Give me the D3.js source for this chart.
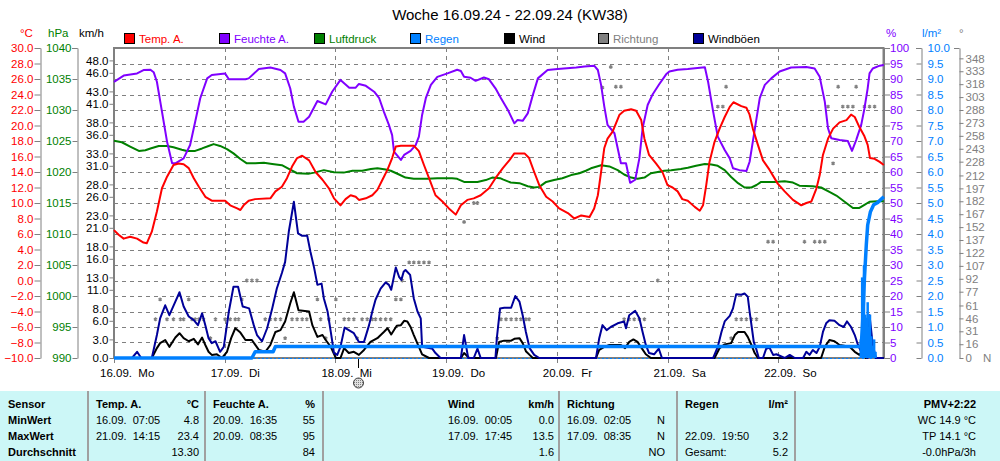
<!DOCTYPE html>
<html><head><meta charset="utf-8">
<script src="https://cdn.jsdelivr.net/npm/d3@7"></script>
<style>
body{margin:0;background:#fff;}
svg{display:block;font-family:"Liberation Sans",Arial,sans-serif;}
text{white-space:pre;}
</style></head><body>
<svg id="c" width="1000" height="461"></svg>
<script>
// ---------- DATA (time in hours since 16.09. 00:00) ----------
const dayLabels = ["16.09.  Mo","17.09.  Di","18.09.  Mi","19.09.  Do","20.09.  Fr","21.09.  Sa","22.09.  So"];

const humT = [0,2.1,5.0,6.4,7.9,8.6,9.3,10.4,11.5,12.6,13.3,15.1,16.5,17.6,18.7,20.2,21.2,24.1,24.9,28.5,29.2,31.4,33.9,36.1,37.1,38.2,39.0,40.0,41.1,42.3,44.1,45.9,47.3,49.1,51.0,52.4,53.1,54.6,56.4,57.5,58.5,59.6,60.3,60.7,62.2,62.9,64.3,65.4,66.1,66.8,67.6,68.7,70.1,72.3,74.4,75.2,75.9,77.3,78.4,80.2,81.3,82.7,83.9,85.4,86.8,87.5,88.6,89.7,90.8,91.9,94.0,96.2,100.2,102.0,104.1,104.9,105.6,106.3,107.0,108.5,109.9,111.0,111.9,113.0,113.9,114.6,115.7,116.8,118.2,119.7,120.4,122.2,124.4,128.1,128.8,129.9,130.9,132.4,133.5,134.2,135.6,137.1,137.8,138.5,139.3,140.0,141.1,142.5,144.3,146.8,150.1,151.9,153.0,154.1,154.8,155.5,157.3,159.1,160.0,160.9,162.0,162.7,163.4,163.8,164.5,166.0,166.9];
const humV = [89.1,91.1,91.8,92.9,93.0,92.2,89.1,79.5,69.8,62.8,62.8,64.4,68.7,76.2,83.8,90.2,91.3,91.8,89.9,89.9,90.2,93.2,93.7,92.9,91.8,87.0,81.1,76.2,76.2,77.8,82.9,81.8,85.9,89.7,87.2,87.2,88.4,87.8,85.9,83.8,79.5,75.2,71.9,66.6,63.9,65.5,66.8,68.7,71.4,78.4,83.8,88.1,90.7,91.8,93.0,92.6,90.7,90.4,89.4,90.5,89.9,87.0,83.8,80.0,75.7,76.8,76.5,78.9,84.8,90.2,92.9,93.2,93.7,94.0,94.3,92.9,88.1,81.1,75.2,72.5,62.8,62.8,56.5,57.5,64.4,74.1,81.6,85.1,88.3,91.5,92.4,93.0,93.2,93.8,89.1,79.5,71.4,67.1,64.4,61.2,60.6,60.3,63.3,69.8,77.3,83.8,88.1,90.2,92.4,93.7,93.9,93.4,90.7,82.7,74.1,70.9,70.3,70.0,66.8,70.3,75.2,80.5,87.0,91.8,93.4,94.3,94.5];

const tempT = [0,1.0,2.1,3.5,5.0,6.4,7.1,8.2,9.3,10.4,11.5,12.9,14.0,15.1,16.2,17.3,18.4,19.8,21.2,24.1,25.2,26.7,27.4,28.1,29.2,30.6,33.9,35.0,36.4,37.5,38.6,39.7,40.8,42.3,43.7,45.2,46.6,47.7,49.1,50.2,51.3,52.4,53.1,54.6,56.0,57.1,58.2,59.3,60.3,61.1,62.2,65.0,66.1,67.2,68.3,69.7,71.2,72.6,74.1,75.2,76.6,78.0,79.5,81.3,82.7,84.3,85.7,86.8,89.0,90.0,91.1,92.2,93.7,95.1,96.5,98.4,99.8,101.3,103.1,104.1,104.9,105.6,106.3,107.0,108.1,109.6,110.6,112.1,113.2,114.3,115.0,116.0,117.5,118.9,120.0,121.1,122.2,123.2,124.4,125.9,127.0,127.7,128.4,129.1,130.2,131.3,132.4,133.5,134.3,136.0,137.1,137.8,138.5,139.6,140.7,142.1,143.9,145.4,147.2,149.0,150.1,151.2,152.3,153.0,153.7,154.8,155.9,157.3,158.8,159.8,160.6,161.6,162.7,163.4,163.9,164.9,166.0,166.9];
const tempV = [6.5,5.9,5.4,5.65,5.4,4.9,4.8,6.3,8.9,11.9,13.4,14.9,15.1,15.0,14.5,13.2,12.1,10.8,10.3,10.3,9.7,9.3,9.1,9.7,10.3,10.5,10.6,11.5,12.1,13.2,14.7,15.8,16.1,15.5,14.0,13.0,11.9,10.6,9.7,10.5,11.0,10.8,10.4,10.6,11.0,11.7,13.0,14.3,15.8,17.3,17.4,17.4,16.7,14.9,13.2,11.0,10.2,9.3,8.5,9.7,10.4,10.6,11.0,11.9,13.2,14.5,15.5,16.4,16.4,15.8,14.0,12.3,10.8,10.2,9.3,8.7,8.0,8.4,8.2,9.3,11.0,14.0,17.1,18.3,19.2,21.4,21.9,22.1,21.9,20.7,18.3,16.2,15.1,14.0,12.3,12.0,11.5,10.5,10.3,9.5,9.0,9.7,12.3,15.3,17.9,19.6,21.1,22.4,23.0,22.5,22.3,21.4,19.6,17.5,15.5,14.3,12.5,11.5,10.4,9.7,10.0,10.2,11.9,13.6,16.2,18.3,19.6,20.4,20.7,21.4,21.1,19.8,18.6,17.5,15.8,15.7,15.3,14.9];

const presT = [0,1.7,3.5,5.4,6.8,7.9,9.7,11.5,12.9,14.7,15.8,17.6,19.1,20.5,21.6,23.0,24.5,25.9,27.4,28.8,30.6,32.5,34.3,36.4,37.9,39.7,42.1,43.4,45.5,47.7,49.8,51.7,53.8,55.7,57.1,58.9,60.0,61.8,63.2,65.0,67.9,70.1,73.3,74.4,75.9,78.8,80.6,82.0,83.7,84.3,86.0,87.9,89.7,91.1,92.2,93.7,95.4,97.2,99.1,100.9,102.3,103.4,105.6,107.4,109.2,110.6,112.1,113.5,115.0,116.4,117.9,119.3,120.8,122.9,124.4,126.2,128.1,129.5,130.9,132.4,133.8,135.3,136.7,138.2,139.3,140.3,143.2,145.4,147.2,148.6,151.5,153.3,155.1,156.6,158.4,160.2,161.6,162.7,163.8,165.6,166.9];
const presV = [1025.05,1024.8,1024.1,1023.4,1023.5,1023.8,1024.2,1024.2,1024.0,1023.6,1023.4,1023.4,1023.8,1024.2,1024.5,1024.2,1023.7,1023.0,1022.1,1021.4,1021.4,1021.5,1021.3,1021.1,1020.5,1019.8,1019.7,1019.9,1020.3,1019.95,1019.9,1020.2,1020.2,1020.5,1020.6,1020.4,1020.2,1019.6,1019.1,1018.9,1018.9,1019.0,1019.0,1018.9,1018.4,1018.4,1018.7,1019.1,1019.0,1018.8,1018.3,1018.2,1017.7,1017.5,1017.6,1018.4,1018.7,1019.0,1019.5,1019.8,1020.2,1020.6,1021.1,1020.9,1020.3,1019.6,1019.1,1018.9,1019.1,1019.8,1020.0,1020.2,1020.3,1020.5,1020.7,1021.0,1021.3,1021.2,1021.0,1020.3,1019.2,1018.2,1017.5,1017.5,1017.9,1018.4,1018.4,1018.5,1018.3,1017.8,1017.7,1017.5,1016.8,1016.2,1015.2,1014.2,1014.2,1014.7,1015.2,1015.3,1015.3];

const gustT = [0,3.9,5.0,5.9,8.2,9.3,10.0,11.1,12.0,13.3,14.2,15.1,16.2,17.3,18.2,19.1,19.8,20.5,21.2,22.0,23.0,23.8,24.9,25.9,26.9,27.9,29.3,30.3,31.0,32.1,33.2,34.3,35.3,36.4,37.1,37.9,39.0,39.9,40.8,41.9,42.6,43.4,44.1,45.0,45.5,46.3,47.0,47.7,48.4,49.1,50.0,50.9,52.0,53.1,54.2,55.3,56.0,56.7,57.8,58.9,59.6,60.1,61.1,61.8,62.3,62.8,63.2,64.2,65.0,65.8,66.5,66.8,68.3,69.0,69.7,70.8,75.2,75.9,76.8,78.0,78.8,79.5,82.7,83.0,83.7,84.6,86.1,87.0,87.9,88.6,89.3,90.1,91.1,92.2,104.5,105.2,105.9,106.8,107.7,109.2,110.6,111.0,111.7,113.0,113.9,114.6,115.3,116.0,117.1,118.1,118.8,129.9,130.9,131.7,132.4,133.5,134.2,134.9,136.0,136.7,137.4,137.8,138.3,138.7,139.3,139.8,140.7,141.4,142.1,142.9,143.6,145.4,146.5,147.6,149.4,150.1,150.8,151.5,152.3,153.0,153.7,154.4,155.1,156.2,157.3,158.2,158.9,159.8,160.6,161.3,162.0,162.7,163.4,163.8,164.5,165.2,166.9];
const gustV = [0,0,1.0,0,0,3.7,6.4,8.5,6.9,9.1,10.6,8.3,6.7,6.1,5.3,7.2,5.3,3.2,2.4,2.7,1.0,1.8,7.5,11.5,11.5,8.3,8.0,5.3,3.7,2.7,4.8,8.0,11.2,13.7,15.5,20.4,25.2,20.1,19.7,19.7,17.1,14.5,11.8,12.0,9.6,7.5,4.2,0.8,0.5,1.8,4.9,4.5,4.0,2.6,2.6,5.3,7.5,9.4,11.2,12.2,11.8,11.0,14.6,13.1,12.6,13.9,14.2,13.4,9.6,7.5,6.4,1.8,1.6,1.5,0.8,0,0,3.7,0,0,1.5,0,0,3.2,8.0,8.1,8.1,10.0,9.1,6.9,4.2,1.6,0.5,0,0,3.2,5.3,4.5,5.0,5.6,5.9,4.8,6.9,7.6,6.4,4.2,2.1,0.8,0.6,1.5,0,0,1.8,4.2,5.9,6.8,8.0,10.3,10.2,10.4,9.9,7.5,4.8,2.6,1.3,0,0,1.5,1.7,0.5,0.6,0,0.5,0,0,1.0,0.5,1.3,0.8,1.8,4.2,5.6,6.1,6.0,5.3,5.0,5.9,5.0,3.7,2.1,1.0,3.7,0,6.9,2.1,0,0];

const windT = [0,8.2,9.3,10.0,11.1,12.0,13.3,14.2,15.1,16.2,17.3,18.2,19.1,19.8,20.5,21.2,22.3,23.4,24.5,25.4,26.3,27.4,28.5,29.9,31.4,32.8,33.9,35.0,36.1,37.1,38.2,39.0,40.0,42.3,43.0,44.1,45.2,45.9,47.0,48.1,49.1,49.9,50.9,52.0,53.1,54.2,55.6,57.1,58.5,59.3,60.1,61.3,62.2,62.9,63.6,64.3,65.0,66.1,66.8,68.3,75.2,75.9,77.0,82.8,83.5,84.6,86.1,86.8,87.9,88.6,89.3,90.1,90.8,104.5,105.2,106.3,107.4,109.9,110.8,111.7,112.6,113.5,114.4,115.3,116.4,130.2,131.3,132.4,133.8,134.6,135.3,136.7,137.4,138.2,138.9,139.6,153.3,154.1,155.1,156.2,157.3,159.5,160.6,161.6,162.3,163.0,163.8,164.5,165.2,166.9];
const windV = [0,0,1.6,2.4,2.9,1.8,3.3,4.0,3.2,2.7,3.1,2.2,3.3,2.1,1.0,0.5,0.6,0,1.0,3.2,4.8,4.1,2.9,2.9,1.3,1.0,2.1,4.2,4.5,5.9,8.8,10.6,7.7,7.5,5.3,3.4,3.7,2.9,1.8,0,0,1.6,0.8,1.0,0.5,1.3,2.6,3.2,4.2,4.8,3.8,5.2,5.3,6.0,5.9,5.0,3.7,1.8,0.6,0,0,0.8,0,0,2.6,2.8,2.8,3.1,3.2,2.4,1.1,0.5,0,0,1.3,1.8,2.1,2.1,1.6,2.6,3.0,2.6,1.6,0.6,0,0,1.6,2.2,2.4,3.7,4.2,4.2,3.4,2.1,0.8,0,0,1.8,2.9,2.7,2.1,1.8,1.0,0.5,1.0,0,2.6,0.5,0,0];

const rainT = [0,29.9,30.6,34.5,35.0,162.0,162.3,162.7,163.1,163.4,164.0,164.7,165.6,166.9];
const rainV = [0,0,0.2,0.2,0.37,0.37,1.17,2.57,3.65,4.29,4.72,4.94,5.02,5.2];
const rainRateT = [161.9,162.2,162.4,162.6,162.9,163.1,163.4,163.6,163.9,164.2,164.5,164.8,165.1];
const rainRateV = [0.6,2.6,1.2,3.0,1.4,1.3,1.8,1.0,1.4,0.7,0.4,0.6,0.2];

const dirT = [9.0,10.0,11.5,12.9,14.4,15.1,16.2,16.9,17.6,18.4,19.4,20.9,22.0,24.1,25.2,26.3,27.0,27.7,28.8,29.9,31.0,32.8,33.9,35.0,36.1,37.1,38.6,39.7,40.8,41.8,44.1,44.8,45.9,46.6,48.1,49.9,50.9,52.0,52.7,53.8,54.9,56.0,56.7,57.8,58.9,60.0,61.1,62.2,62.5,64.0,65.0,66.1,67.2,68.3,75.9,78.0,78.8,83.1,83.9,85.0,86.1,87.2,88.2,89.3,90.0,105.9,107.7,108.8,109.9,110.6,111.7,112.8,113.9,115.0,117.9,130.9,132.0,132.7,133.8,134.9,136.0,137.1,138.2,139.3,141.8,142.9,149.7,151.9,153.0,154.1,154.8,155.9,157.0,158.0,159.1,160.2,160.9,162.7,163.8,164.9];
const dirV = [45,68,45,45,45,45,68,45,45,45,45,23,45,45,45,45,45,68,90,90,90,45,45,45,45,23,45,45,45,45,68,45,23,45,68,45,45,45,23,45,45,45,45,45,45,45,68,68,90,111,111,111,111,111,158,180,180,23,45,45,45,45,45,45,45,314,338,315,315,45,45,45,45,45,90,292,292,315,23,45,45,45,45,45,135,135,135,135,135,135,292,226,315,292,292,292,315,292,292,292];

const tickTemp = d3.range(-10, 31, 2);
const tickPres = d3.range(990, 1041, 5);
const tickWind = [0,3,6,8,11,13,16,18,21,23,26,28,31,33,36,38,41,43,46,48];
const tickHum = d3.range(0, 101, 5);
const tickRain = d3.range(0, 10.01, 0.5);
const tickDir = [0,16,31,46,61,77,92,107,122,137,152,167,182,197,212,228,243,258,273,288,303,318,333,348];
const markerT = 53.0;

const legendItems = [
  {name:"Temp. A.", color:"#ff0000", text:"#ff0000"},
  {name:"Feuchte A.", color:"#8000ff", text:"#8000ff"},
  {name:"Luftdruck", color:"#008000", text:"#008000"},
  {name:"Regen", color:"#0080ff", text:"#0080ff"},
  {name:"Wind", color:"#000000", text:"#000000"},
  {name:"Richtung", color:"#808080", text:"#808080"},
  {name:"Windböen", color:"#000099", text:"#000000"}
];

// table rows: [x, y, text, anchor, bold]
const tableCols = [88, 205, 323, 559, 677, 795];
const tableText = [
  [8,408,"Sensor","start",1],[8,424,"MinWert","start",1],[8,440,"MaxWert","start",1],[8,456,"Durchschnitt","start",1],
  [96,408,"Temp. A.","start",1],[199,408,"°C","end",1],
  [96,424,"16.09.  07:05","start",0],[199,424,"4.8","end",0],
  [96,440,"21.09.  14:15","start",0],[199,440,"23.4","end",0],
  [199,456,"13.30","end",0],
  [213,408,"Feuchte A.","start",1],[315,408,"%","end",1],
  [213,424,"20.09.  16:35","start",0],[315,424,"55","end",0],
  [213,440,"20.09.  08:35","start",0],[315,440,"95","end",0],
  [315,456,"84","end",0],
  [448,408,"Wind","start",1],[554,408,"km/h","end",1],
  [448,424,"16.09.  00:05","start",0],[554,424,"0.0","end",0],
  [448,440,"17.09.  17:45","start",0],[554,440,"13.5","end",0],
  [554,456,"1.6","end",0],
  [567,408,"Richtung","start",1],
  [567,424,"16.09.  02:05","start",0],[665,424,"N","end",0],
  [567,440,"17.09.  08:35","start",0],[665,440,"N","end",0],
  [665,456,"NO","end",0],
  [685,408,"Regen","start",1],[788,408,"l/m²","end",1],
  [685,440,"22.09.  19:50","start",0],[788,440,"3.2","end",0],
  [685,456,"Gesamt:","start",0],[788,456,"5.2","end",0],
  [976,408,"PMV+2:22","end",1],[976,424,"WC 14.9 °C","end",0],
  [976,440,"TP 14.1 °C","end",0],[976,456,"-0.0hPa/3h","end",0]
];

// ---------- SCALES ----------
const L = 114, R = 883.5, T = 48, B = 358;
const x = d3.scaleLinear().domain([0,168]).range([114, 888.9]);
const yT = d3.scaleLinear().domain([-10,30]).range([B,T]);
const yP = d3.scaleLinear().domain([990,1040]).range([B,T]);
const yW = d3.scaleLinear().domain([0,50]).range([B,T]);
const yH = d3.scaleLinear().domain([0,100]).range([B,T]);
const yR = d3.scaleLinear().domain([0,10]).range([B,T]);
const yD = d3.scaleLinear().domain([0,360]).range([B,T]);

const svg = d3.select("#c");
const FS = 11.5;

// title
svg.append("text").attr("x",510).attr("y",20).attr("text-anchor","middle")
  .attr("font-size",15).attr("fill","#000").text("Woche 16.09.24 - 22.09.24 (KW38)");

// unit labels
const units = [[20,"°C","#ff0000"],[48,"hPa","#008000"],[79,"km/h","#000"],[886,"%","#8000ff"],[922,"l/m²","#0080ff"],[959,"°","#808080"]];
units.forEach(u=>svg.append("text").attr("x",u[0]).attr("y",37).attr("font-size",FS).attr("fill",u[2]).text(u[1]));

// legend
const legX = [124,219,314,410,504,598,693];
legendItems.forEach((d,i)=>{
  svg.append("rect").attr("x",legX[i]+0.5).attr("y",33.5).attr("width",10).attr("height",10)
    .attr("fill",d.color).attr("stroke","#000");
  svg.append("text").attr("x",legX[i]+15).attr("y",43).attr("font-size",FS).attr("fill",d.text).text(d.name);
});

// gridlines
const grid = svg.append("g").attr("stroke","#808080").attr("stroke-width",1).attr("stroke-dasharray","4,4");
tickHum.filter(v=>v>0 && v<100).forEach(v=>{
  grid.append("line").attr("x1",L).attr("x2",R).attr("y1",Math.round(yH(v))+0.5).attr("y2",Math.round(yH(v))+0.5);
});
d3.range(1,7).forEach(d=>{
  const xx = Math.round(x(d*24))+0.5;
  grid.append("line").attr("x1",xx).attr("x2",xx).attr("y1",T).attr("y2",B);
});

// axes
function styleAxis(g, color){
  g.selectAll("path.domain").attr("stroke","#808080");
  g.selectAll(".tick line").attr("stroke","#808080");
  g.selectAll(".tick text").attr("fill",color).attr("font-size",FS).attr("font-family",'"Liberation Sans",Arial,sans-serif');
}
styleAxis(svg.append("g").attr("transform","translate(40.5,0)")
  .call(d3.axisLeft(yT).tickValues(tickTemp).tickFormat(d3.format(".1f")).tickSizeInner(6).tickSizeOuter(0).tickPadding(1)), "#ff0000");
styleAxis(svg.append("g").attr("transform","translate(77.5,0)")
  .call(d3.axisLeft(yP).tickValues(tickPres).tickFormat(d3.format("d")).tickSizeInner(5).tickSizeOuter(0).tickPadding(1)), "#008000");
styleAxis(svg.append("g").attr("transform","translate(113.5,0)")
  .call(d3.axisLeft(yW).tickValues(tickWind).tickFormat(d3.format(".1f")).tickSizeInner(4).tickSizeOuter(0).tickPadding(1)), "#000");
styleAxis(svg.append("g").attr("transform","translate(884,0)")
  .call(d3.axisRight(yH).tickValues(tickHum).tickFormat(d3.format("d")).tickSizeInner(6).tickSizeOuter(0).tickPadding(0)), "#8000ff");
styleAxis(svg.append("g").attr("transform","translate(921.5,0)")
  .call(d3.axisRight(yR).tickValues(tickRain).tickFormat(d3.format(".1f")).tickSizeInner(-5).tickSizeOuter(0).tickPadding(6)), "#0080ff");
const gD = svg.append("g").attr("transform","translate(959.5,0)")
  .call(d3.axisRight(yD).tickValues(tickDir).tickFormat(d3.format("d")).tickSizeInner(4).tickSizeOuter(0).tickPadding(2));
styleAxis(gD, "#808080");
svg.append("text").attr("x",983).attr("y",yD(0)+4).attr("font-size",FS).attr("fill","#808080").text("N");
// top end ticks on axis lines
[[35,40.5],[72,77.5],[916,921.5],[954,959.5]].forEach(p=>{
  svg.append("line").attr("x1",p[0]).attr("x2",p[1]).attr("y1",T+0.5).attr("y2",T+0.5).attr("stroke","#808080");
});

// x axis ticks & labels
d3.range(0,7).forEach(d=>{
  const xx = Math.round(x(d*24))+0.5;
  svg.append("line").attr("x1",xx).attr("x2",xx).attr("y1",B).attr("y2",B+5).attr("stroke","#808080");
  svg.append("text").attr("x",x(d*24)-14).attr("y",377).attr("font-size",FS).attr("fill","#000").text(dayLabels[d]);
});
// marker
const mx = Math.round(x(markerT))+0.5;
svg.append("line").attr("x1",mx).attr("x2",mx).attr("y1",B).attr("y2",368).attr("stroke","#000");
const pat = svg.append("defs").append("pattern").attr("id","hatch").attr("width",2).attr("height",2).attr("patternUnits","userSpaceOnUse");
pat.append("rect").attr("width",2).attr("height",2).attr("fill","#e0e0e0");
pat.append("rect").attr("width",1).attr("height",1).attr("fill","#808080");
svg.append("circle").attr("cx",mx).attr("cy",383).attr("r",5).attr("fill","url(#hatch)").attr("stroke","#404040");

// frame
svg.append("rect").attr("x",L).attr("y",T).attr("width",R-L).attr("height",B-T)
  .attr("fill","none").attr("stroke","#808080").attr("stroke-width",2);
svg.append("line").attr("x1",L).attr("x2",R).attr("y1",B+0.5).attr("y2",B+0.5)
  .attr("stroke","#0080ff").attr("stroke-dasharray","2,2");

// series
const zip = (a,b)=>a.map((t,i)=>[t,b[i]]);
const plot = svg.append("g");
function drawLine(data, ys, color, w){
  plot.append("path").datum(data).attr("fill","none").attr("stroke",color).attr("stroke-width",w)
    .attr("stroke-linejoin","round")
    .attr("d", d3.line().x(d=>x(d[0])).y(d=>ys(d[1])));
}
// direction markers
const sym = d3.symbol().type(d3.symbolAsterisk).size(10);
plot.append("g").selectAll("path").data(zip(dirT,dirV)).join("path")
  .attr("transform",d=>`translate(${x(d[0])},${yD(d[1])})`).attr("d",sym)
  .attr("stroke","#808080").attr("stroke-width",1.3).attr("fill","none");

drawLine(zip(windT,windV), yW, "#000000", 2);
drawLine(zip(gustT,gustV), yW, "#000099", 2);
drawLine(zip(presT,presV), yP, "#008000", 2);
drawLine(zip(humT,humV), yH, "#8000ff", 2);
drawLine(zip(tempT,tempV), yT, "#ff0000", 2);
// rain rate spikes
plot.append("g").selectAll("line").data(zip(rainRateT,rainRateV)).join("line")
  .attr("x1",d=>x(d[0])).attr("x2",d=>x(d[0])).attr("y1",yR(0)).attr("y2",d=>yR(d[1]))
  .attr("stroke","#0080ff").attr("stroke-width",2.5);
drawLine(zip(rainT,rainV), yR, "#0080ff", 3.5);

// table
svg.append("rect").attr("x",0).attr("y",391).attr("width",1000).attr("height",70).attr("fill","#ccf7f7");
tableCols.forEach(c=>svg.append("line").attr("x1",c).attr("x2",c).attr("y1",391).attr("y2",461)
  .attr("stroke","#a0a0a0").attr("stroke-width",2));
tableText.forEach(t=>{
  svg.append("text").attr("x",t[0]).attr("y",t[1]).attr("text-anchor",t[3])
    .attr("font-size",11).attr("font-weight",t[4]?"bold":"normal").attr("fill","#000").text(t[2]);
});
</script>
</body></html>
